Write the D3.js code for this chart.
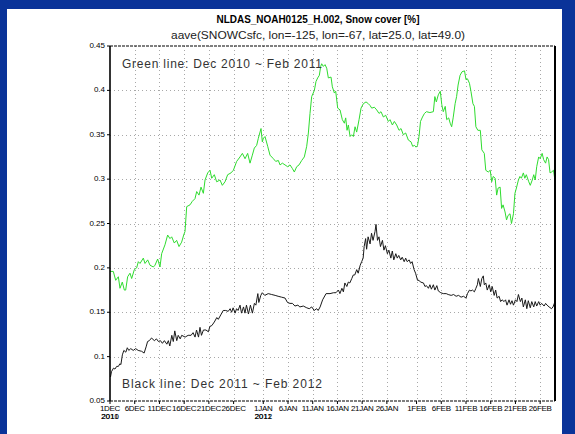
<!DOCTYPE html>
<html>
<head>
<meta charset="utf-8">
<script src="https://cdn.jsdelivr.net/npm/d3@7"></script>
<style>
  html, body { margin: 0; padding: 0; background: #0a3399; }
  svg { display: block; }
</style>
</head>
<body>
<svg id="chart" width="575" height="434"></svg>
<script>
// days since 1 Dec (00Z) and area-averaged snow cover
const greenDays = [0,0.67,1.15,1.69,2.02,2.49,2.9,3.17,3.57,4.04,4.38,4.92,5.39,5.73,6.07,6.74,7.08,7.62,8.09,8.77,9.1,9.64,10.11,10.45,11.12,11.66,12.13,12.47,13.01,13.48,13.96,14.49,14.9,15.17,15.51,16.18,16.65,17.19,17.53,18,18.41,18.88,19.22,19.76,20.23,20.57,21.1,21.58,22.25,22.72,23.26,23.8,24.47,24.95,25.62,26.29,26.77,27.31,27.84,28.32,28.79,29.19,29.66,30,30.54,30.81,31.01,31.35,31.89,32.36,33.04,33.51,34.05,34.39,34.86,35.4,35.93,36.41,36.88,37.28,37.76,38.23,38.77,39.3,39.78,40.12,40.45,40.79,41.33,41.66,42,42.34,42.61,42.81,43.15,43.49,43.83,44.16,44.7,44.97,45.38,45.65,46.05,46.52,46.99,47.4,47.67,47.94,48.21,48.55,48.88,49.22,49.56,49.89,50.37,50.77,51.24,51.78,52.25,52.59,52.93,53.47,53.94,54.41,54.81,55.29,55.76,56.29,56.63,57.11,57.51,57.98,58.46,58.86,59.33,59.8,60.34,60.88,61.21,61.6,61.9,62.2,62.5,62.8,63.2,63.6,64,64.7,65.4,65.7,66,66.4,66.8,67.1,67.4,67.8,68.1,68.5,68.8,69.1,69.4,69.8,70.1,70.4,70.8,71.2,71.7,72,72.3,72.7,73,73.4,73.7,74,74.4,74.9,75.2,75.7,76,76.5,76.9,77.2,77.5,77.9,78.2,78.5,78.9,79.2,79.5,79.9,80.2,80.5,80.9,81.2,81.6,81.9,82.2,82.6,82.9,83.2,83.6,83.9,84.2,84.7,85,85.4,85.7,86,86.3,86.7,87,87.4,87.7,88.1,88.4,88.7,89,89.3,89.7,90];
const greenValues = [0.196,0.196,0.186,0.19,0.177,0.184,0.175,0.175,0.19,0.194,0.188,0.198,0.2,0.207,0.205,0.211,0.205,0.209,0.203,0.201,0.203,0.21,0.201,0.216,0.226,0.237,0.233,0.235,0.228,0.231,0.224,0.229,0.237,0.241,0.269,0.271,0.275,0.278,0.286,0.282,0.291,0.284,0.299,0.307,0.31,0.301,0.305,0.297,0.299,0.293,0.297,0.305,0.307,0.31,0.32,0.325,0.329,0.323,0.329,0.318,0.327,0.335,0.338,0.346,0.357,0.342,0.346,0.348,0.337,0.327,0.323,0.32,0.321,0.316,0.318,0.316,0.314,0.316,0.312,0.308,0.314,0.316,0.321,0.325,0.337,0.352,0.374,0.393,0.4,0.41,0.414,0.417,0.427,0.43,0.427,0.429,0.425,0.414,0.415,0.404,0.397,0.399,0.38,0.378,0.367,0.363,0.369,0.355,0.361,0.348,0.35,0.348,0.359,0.353,0.367,0.38,0.385,0.387,0.385,0.383,0.38,0.381,0.378,0.374,0.376,0.37,0.372,0.365,0.367,0.361,0.365,0.361,0.355,0.357,0.35,0.352,0.344,0.342,0.337,0.338,0.336,0.338,0.348,0.365,0.37,0.374,0.376,0.375,0.376,0.393,0.387,0.395,0.399,0.384,0.376,0.382,0.367,0.369,0.363,0.359,0.369,0.385,0.393,0.406,0.417,0.421,0.422,0.412,0.413,0.408,0.399,0.385,0.382,0.359,0.355,0.355,0.333,0.329,0.31,0.308,0.31,0.297,0.303,0.301,0.282,0.29,0.291,0.267,0.271,0.263,0.254,0.259,0.261,0.25,0.261,0.284,0.29,0.299,0.303,0.301,0.307,0.301,0.305,0.297,0.293,0.299,0.305,0.299,0.314,0.325,0.323,0.329,0.322,0.318,0.325,0.322,0.307,0.308,0.31,0.298];

const blackDays = [0.1,0.3,0.7,1,1.35,1.7,2,2.2,2.5,2.8,3.2,3.5,3.8,4.2,4.7,5.2,5.7,6.4,6.9,7.3,7.6,7.95,8.4,8.97,9.4,9.8,10.2,10.6,11,11.5,11.8,12.1,12.5,12.8,13.1,13.5,13.8,14.2,14.5,15.2,15.8,16.4,16.8,17.2,17.5,17.9,18.2,18.5,18.9,19.4,19.9,20.2,20.6,21.1,21.6,21.9,22.4,22.9,23.4,23.9,24.3,24.6,24.9,25.3,25.6,25.9,26.3,26.6,27,27.3,27.6,28,28.4,28.8,29.2,29.5,29.9,30.1,30.5,30.8,31.3,32,32.7,33.4,34,34.7,35.4,35.9,36.4,36.9,37.4,38,38.4,39.1,39.8,40.3,40.8,41.3,41.8,42.1,42.5,43,43.7,44.5,45.2,45.7,46.2,46.5,46.9,47.2,47.5,47.9,48.2,48.5,48.9,49.2,49.5,49.9,50.2,50.6,50.9,51.2,51.4,51.7,51.9,52.2,52.6,52.9,53.2,53.6,53.8,54.1,54.4,54.7,55.1,55.4,55.7,56.1,56.4,56.8,57.1,57.4,57.8,58.1,58.4,58.8,59.1,59.5,59.8,60.1,60.5,60.8,61.1,61.5,61.8,62.2,62.5,62.8,63.4,63.7,64,64.4,64.7,65,65.4,65.7,66.1,66.4,66.9,67.4,68,68.4,69,69.5,70,70.5,71,71.5,72,72.3,72.7,73,73.3,73.7,74,74.3,74.5,74.9,75.2,75.5,75.7,76,76.3,76.7,77,77.3,77.7,78,78.3,78.7,79,79.3,79.7,80,80.3,80.7,81,81.3,81.6,82,82.3,82.6,83,83.3,83.6,84,84.3,84.6,85,85.3,85.7,86,86.3,86.7,87,87.3,87.8,88.1,88.4,88.8,89.3,89.6,90];
const blackValues = [0.077,0.083,0.087,0.086,0.089,0.089,0.092,0.091,0.102,0.107,0.105,0.11,0.107,0.109,0.107,0.109,0.107,0.106,0.104,0.111,0.117,0.118,0.121,0.118,0.12,0.117,0.118,0.115,0.118,0.114,0.118,0.112,0.124,0.117,0.129,0.118,0.124,0.12,0.124,0.122,0.124,0.124,0.127,0.122,0.13,0.122,0.133,0.124,0.13,0.13,0.128,0.134,0.135,0.139,0.144,0.142,0.147,0.152,0.152,0.151,0.154,0.15,0.155,0.149,0.154,0.152,0.158,0.149,0.156,0.149,0.158,0.148,0.158,0.149,0.16,0.158,0.171,0.161,0.169,0.172,0.169,0.171,0.17,0.169,0.168,0.167,0.166,0.161,0.16,0.16,0.157,0.158,0.156,0.157,0.155,0.154,0.156,0.152,0.154,0.152,0.156,0.164,0.171,0.171,0.172,0.172,0.175,0.171,0.177,0.173,0.183,0.179,0.184,0.183,0.188,0.192,0.192,0.198,0.194,0.203,0.207,0.211,0.224,0.233,0.221,0.235,0.227,0.239,0.231,0.241,0.249,0.231,0.235,0.224,0.231,0.22,0.225,0.216,0.22,0.211,0.219,0.209,0.216,0.211,0.214,0.209,0.212,0.207,0.211,0.207,0.209,0.205,0.207,0.198,0.194,0.186,0.186,0.184,0.183,0.179,0.18,0.177,0.181,0.176,0.181,0.175,0.18,0.174,0.172,0.171,0.171,0.17,0.169,0.17,0.168,0.169,0.167,0.168,0.166,0.171,0.175,0.174,0.175,0.173,0.177,0.181,0.188,0.179,0.188,0.191,0.181,0.183,0.175,0.181,0.173,0.179,0.169,0.175,0.166,0.168,0.162,0.164,0.162,0.164,0.158,0.164,0.159,0.163,0.158,0.164,0.162,0.17,0.162,0.166,0.156,0.164,0.154,0.163,0.155,0.162,0.156,0.162,0.157,0.162,0.158,0.16,0.157,0.16,0.158,0.156,0.154,0.156,0.162];

const yTicks = [0.05, 0.1, 0.15, 0.2, 0.25, 0.3, 0.35, 0.4, 0.45];
const yTickLabels = ["0.05", "0.1", "0.15", "0.2", "0.25", "0.3", "0.35", "0.4", "0.45"];
const xTickDates = ["2010-12-01","2010-12-06","2010-12-11","2010-12-16","2010-12-21","2010-12-26",
  "2011-01-01","2011-01-06","2011-01-11","2011-01-16","2011-01-21","2011-01-26",
  "2011-02-01","2011-02-06","2011-02-11","2011-02-16","2011-02-21","2011-02-26"];
const xTickLabels = ["1DEC","6DEC","11DEC","16DEC","21DEC","26DEC","1JAN","6JAN","11JAN","16JAN",
  "21JAN","26JAN","1FEB","6FEB","11FEB","16FEB","21FEB","26FEB"];
// the two overlaid plots each wrote their own year under the month starts
const yearLabels = [
  { date: "2010-12-01", texts: ["2010", "2011"] },
  { date: "2011-01-01", texts: ["2011", "2012"] }
];

const titleText = "NLDAS_NOAH0125_H.002, Snow cover [%]";
const subtitleText = "aave(SNOWCsfc, lon=-125, lon=-67, lat=25.0, lat=49.0)";
const greenLabel = "Green line: Dec 2010 ~ Feb 2011";
const blackLabel = "Black line: Dec 2011 ~ Feb 2012";

const svg = d3.select("#chart");
const plotL = 110, plotR = 555, plotT = 46, plotB = 401;
const start = Date.UTC(2010, 11, 1);
const toDate = d => new Date(start + d * 864e5);

const x = d3.scaleUtc().domain([toDate(0), toDate(90)]).range([plotL, plotR]);
const y = d3.scaleLinear().domain([0.05, 0.45]).range([plotB, plotT]);

// blue frame + white page
svg.append("rect").attr("width", 575).attr("height", 434).attr("fill", "#0a3399");
svg.append("rect").attr("x", 7).attr("y", 9).attr("width", 555).attr("height", 425).attr("fill", "#fff");

// grid
const grid = svg.append("g").attr("stroke", "#a8a8a8").attr("stroke-width", 1).attr("stroke-dasharray", "1,3");
grid.selectAll("line.v").data(xTickDates.slice(1)).enter().append("line")
  .attr("x1", d => Math.round(x(new Date(d))) + 0.5).attr("x2", d => Math.round(x(new Date(d))) + 0.5)
  .attr("y1", plotT).attr("y2", plotB);
grid.selectAll("line.h").data(yTicks.slice(1, -1)).enter().append("line")
  .attr("x1", plotL).attr("x2", plotR)
  .attr("y1", d => Math.round(y(d)) + 0.5).attr("y2", d => Math.round(y(d)) + 0.5);

// lines
const line = d3.line().x(d => x(toDate(d[0]))).y(d => y(d[1]));
svg.append("path").datum(d3.zip(greenDays, greenValues))
  .attr("d", line).attr("fill", "none").attr("stroke", "#2fdc2f").attr("stroke-width", 1);
svg.append("path").datum(d3.zip(blackDays, blackValues))
  .attr("d", line).attr("fill", "none").attr("stroke", "#1a1a1a").attr("stroke-width", 1);

// frame
svg.append("line").attr("x1", plotL).attr("x2", plotR).attr("y1", plotT).attr("y2", plotT)
  .attr("stroke", "#000").attr("stroke-width", 1.2).attr("stroke-dasharray", "3,1");
svg.append("line").attr("x1", plotL).attr("x2", plotR).attr("y1", plotB).attr("y2", plotB)
  .attr("stroke", "#000").attr("stroke-width", 1.2).attr("stroke-dasharray", "3,1");
svg.append("line").attr("x1", plotL).attr("x2", plotL).attr("y1", plotT).attr("y2", plotB)
  .attr("stroke", "#000").attr("stroke-width", 1.6);
svg.append("line").attr("x1", plotR).attr("x2", plotR).attr("y1", plotT).attr("y2", plotB)
  .attr("stroke", "#000").attr("stroke-width", 2);

// ticks and labels
const font = "'Liberation Sans Narrow', 'Liberation Sans', Arial, sans-serif";
const yAx = svg.append("g");
yAx.selectAll("line").data(yTicks).enter().append("line")
  .attr("x1", plotL - 3).attr("x2", plotL).attr("y1", d => y(d)).attr("y2", d => y(d))
  .attr("stroke", "#000");
yAx.selectAll("text").data(yTicks).enter().append("text")
  .attr("x", plotL - 5).attr("y", d => y(d) + 2)
  .attr("text-anchor", "end").attr("font-family", font).attr("font-size", 8)
  .text((d, i) => yTickLabels[i]);

const xAx = svg.append("g");
xAx.selectAll("line").data(xTickDates).enter().append("line")
  .attr("x1", d => x(new Date(d))).attr("x2", d => x(new Date(d)))
  .attr("y1", plotB).attr("y2", plotB + 3).attr("stroke", "#000");
xAx.selectAll("text").data(xTickDates).enter().append("text")
  .attr("x", d => x(new Date(d))).attr("y", plotB + 10)
  .attr("text-anchor", "middle").attr("font-family", font).attr("font-size", 8)
  .attr("letter-spacing", -0.3)
  .text((d, i) => xTickLabels[i]);
yearLabels.forEach(yl => {
  yl.texts.forEach(t => {
    svg.append("text").attr("x", x(new Date(yl.date))).attr("y", plotB + 18)
      .attr("text-anchor", "middle").attr("font-family", font).attr("font-size", 8)
      .text(t);
  });
});

// titles
svg.append("text").attr("x", 318).attr("y", 23).attr("text-anchor", "middle")
  .attr("font-family", font).attr("font-size", 11.5).attr("font-weight", "bold")
  .attr("textLength", 203).attr("lengthAdjust", "spacingAndGlyphs").text(titleText);
svg.append("text").attr("x", 318).attr("y", 39).attr("text-anchor", "middle")
  .attr("font-family", font).attr("font-size", 10.5).attr("fill", "#222")
  .attr("textLength", 294).attr("lengthAdjust", "spacingAndGlyphs").text(subtitleText);

// in-plot labels
svg.append("text").attr("x", 122).attr("y", 68)
  .attr("font-family", "'Liberation Sans', Arial, sans-serif").attr("font-size", 12).attr("fill", "#333")
  .attr("textLength", 200).attr("lengthAdjust", "spacing").text(greenLabel);
svg.append("text").attr("x", 122).attr("y", 388)
  .attr("font-family", "'Liberation Sans', Arial, sans-serif").attr("font-size", 12).attr("fill", "#333")
  .attr("textLength", 200).attr("lengthAdjust", "spacing").text(blackLabel);
</script>
</body>
</html>
